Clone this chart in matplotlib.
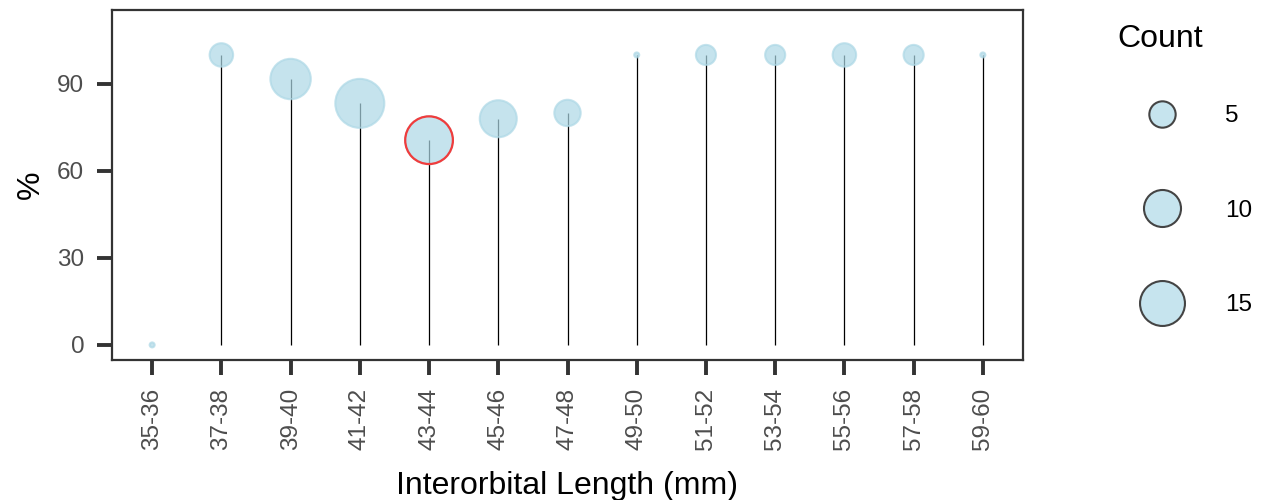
import matplotlib.pyplot as plt
from matplotlib.lines import Line2D
import numpy as np

plt.rcParams['font.family'] = ['Liberation Sans', 'DejaVu Sans']

# data
bins = ['35-36', '37-38', '39-40', '41-42', '43-44', '45-46', '47-48',
        '49-50', '51-52', '53-54', '55-56', '57-58', '59-60']
percent = [0, 100, 91.7, 83.3, 70.6, 78.0, 80, 100, 100, 100, 100, 100, 100]
counts = [1, 4, 12, 18, 17, 10, 5, 1, 3, 3, 4, 3, 1]
highlight = '43-44'
legend_counts = [5, 10, 15]

FILL = '#ADD8E6'
PX = 0.72  # points per pixel at dpi 100


def diam_px(c, cmin=min(counts), cmax=max(counts)):
    # area scale like ggplot's scale_size: diameter ~ sqrt of rescaled count
    return 5 + 44 * np.sqrt((np.asarray(c, float) - cmin) / (cmax - cmin))


fig = plt.figure(figsize=(12.68, 5.0), dpi=100)
ax = fig.add_axes([112 / 1268, 1 - 360 / 500, (1023 - 112) / 1268, 350 / 500])

x = np.arange(len(bins))
ax.vlines(x, 0, percent, color='black', lw=0.9, zorder=2)

sizes = (diam_px(counts) * PX) ** 2
ax.scatter(x, percent, s=sizes, color=FILL, alpha=0.7, lw=1.5, zorder=3)

hi = bins.index(highlight)
ax.scatter([x[hi]], [percent[hi]], s=sizes[hi], facecolor='none',
           edgecolor='#F03C3C', lw=1.6, zorder=4)

ax.set_xlim(-0.58, 12.58)
ax.set_ylim(-5.2, 115.5)
ax.set_xticks(x)
ax.set_xticklabels(bins, rotation=90, va='top')
ax.set_yticks([0, 30, 60, 90])

for s in ax.spines.values():
    s.set_color('#333333')
    s.set_linewidth(1.6)
ax.tick_params(axis='both', length=11, width=2.8, color='#333333',
               labelsize=17.5, labelcolor='#4D4D4D', pad=9)

ax.set_xlabel('Interorbital Length (mm)', fontsize=23, labelpad=15)
ax.set_ylabel('%', fontsize=23, labelpad=8)

# size legend
handles = [Line2D([], [], ls='none', marker='o', markersize=diam_px(c) * PX,
                  markerfacecolor='#C6E4EE', markeredgecolor='#444444',
                  markeredgewidth=1.5) for c in legend_counts]
fig.legend(handles, [str(c) for c in legend_counts], loc='upper left',
           bbox_to_anchor=(1138 / 1268, 1 - 105 / 500), frameon=False,
           fontsize=17.5, labelspacing=2.99, handlelength=2.0,
           handletextpad=1.6, borderpad=0, borderaxespad=0)
fig.text(1117 / 1268, 1 - 47 / 500, 'Count', fontsize=23, va='baseline')

fig.savefig('out.png', dpi=100)
